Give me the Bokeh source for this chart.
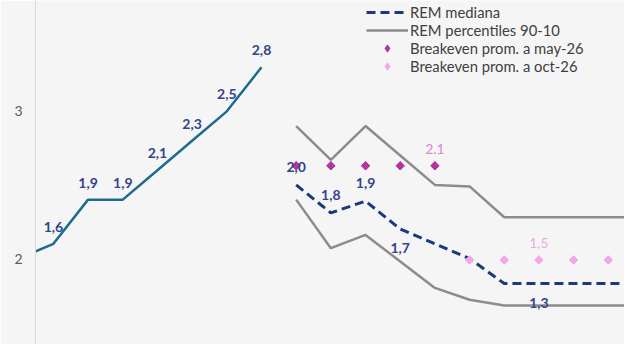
import math
from bokeh.plotting import figure
from bokeh.models import (ColumnDataSource, Range1d, LinearAxis, FixedTicker,
                          Legend, LegendItem)
from bokeh.core.properties import value
from bokeh.embed import file_html
from bokeh.resources import INLINE

# ---------------- data ----------------
# x positions are period indices
hist_x = [0, 1, 2, 3, 4, 5, 6, 7]
hist_y = [1.5, 1.6, 1.9, 1.9, 2.1, 2.3, 2.5, 2.8]
hist_lbl_x = [1, 2, 3, 4, 5, 6, 7]
hist_lbl = ["1,6", "1,9", "1,9", "2,1", "2,3", "2,5", "2,8"]

fc_x = [8, 9, 10, 11, 12, 13, 14, 15, 16, 17, 18]
rem_median = [2.0, 1.81, 1.89, 1.70, 1.60, 1.50, 1.33, 1.33, 1.33, 1.33, 1.33]
rem_p90 = [2.40, 2.17, 2.40, 2.20, 2.00, 1.99, 1.78, 1.78, 1.78, 1.78, 1.78]
rem_p10 = [1.90, 1.57, 1.66, 1.48, 1.30, 1.22, 1.18, 1.18, 1.18, 1.18, 1.18]

be_may_x = [8, 9, 10, 11, 12]
be_may_y = [2.13, 2.13, 2.13, 2.13, 2.13]
be_oct_x = [13, 14, 15, 16, 17]
be_oct_y = [1.49, 1.49, 1.49, 1.49, 1.49]

med_lbl_up_x = [8, 9, 10]
med_lbl_up = ["2,0", "1,8", "1,9"]
med_lbl_dn_x = [11, 15]
med_lbl_dn = ["1,7", "1,3"]
may_lbl_x = [12]
may_lbl = ["2.1"]
oct_lbl_x = [15]
oct_lbl = ["1,5"]

axis_ticks = [2, 3]
axis_offset = 0.5

# ---------------- style ----------------
BG = "#f5f5f5"
TEAL = "#1f6b8e"
NAVY = "#1b3a7a"
LBL = "#33448a"
GRAY = "#8c8c8c"
MAG = "#b4349e"
PINK = "#f2a7ea"

y0, y1 = 0.9156, 3.2532
p = figure(width=624, height=344, output_backend="svg", toolbar_location=None,
           title=None, x_range=Range1d(0.4836, 17.467), y_range=Range1d(y0, y1),
           x_axis_location=None, y_axis_location=None,
           min_border_left=35, min_border_right=0, min_border_top=0,
           min_border_bottom=0, background_fill_color=BG, border_fill_color=BG,
           outline_line_color=None)
p.xgrid.visible = False
p.ygrid.visible = False

p.extra_y_ranges = {"ax": Range1d(y0 + axis_offset, y1 + axis_offset)}
ax = LinearAxis(y_range_name="ax", ticker=FixedTicker(ticks=axis_ticks),
                axis_line_color="#d9d9d9", axis_line_width=1,
                major_tick_out=0, major_tick_in=0, minor_tick_out=0, minor_tick_in=0,
                major_label_standoff=13,
                major_label_text_font="Lato", major_label_text_font_size="14px",
                major_label_text_color="#595959")
p.add_layout(ax, "left")

p.line(hist_x, hist_y, line_color=TEAL, line_width=2.5)
r_up = p.line(fc_x, rem_p90, line_color=GRAY, line_width=2.5)
p.line(fc_x, rem_p10, line_color=GRAY, line_width=2.5)
r_med = p.line(fc_x, rem_median, line_color=NAVY, line_width=3, line_dash="9 5")
# diamond renderers (used for the legend swatch), covered by rotated squares
r_may = p.scatter(be_may_x, be_may_y, marker="diamond", size=8, color=MAG)
r_oct = p.scatter(be_oct_x, be_oct_y, marker="diamond", size=8, color=PINK)
p.scatter(be_may_x, be_may_y, marker="square", size=6, angle=math.pi / 4, color=MAG)
p.scatter(be_oct_x, be_oct_y, marker="square", size=6, angle=math.pi / 4, color=PINK)


def labels(xs, ys_src, xsrc, txt, color, dy, style="bold"):
    lookup = dict(zip(xsrc, ys_src))
    src = ColumnDataSource(dict(x=xs, y=[lookup[x] for x in xs], t=txt))
    p.text(x="x", y="y", text="t", source=src, y_offset=dy,
           text_align="center", text_baseline="middle",
           text_font=value("Lato"), text_font_style=style,
           text_font_size="14px", text_color=color)


labels(hist_lbl_x, hist_y, hist_x, hist_lbl, LBL, -17)
labels(med_lbl_up_x, rem_median, fc_x, med_lbl_up, LBL, -18)
labels(med_lbl_dn_x, rem_median, fc_x, med_lbl_dn, LBL, 19)
labels(may_lbl_x, be_may_y, be_may_x, may_lbl, "#df84d6", -17, "normal")
labels(oct_lbl_x, be_oct_y, be_oct_x, oct_lbl, "#f0a8e8", -17, "normal")

legend = Legend(items=[
    LegendItem(label="REM mediana", renderers=[r_med]),
    LegendItem(label="REM percentiles 90-10", renderers=[r_up]),
    LegendItem(label="Breakeven prom. a may-26", renderers=[r_may]),
    LegendItem(label="Breakeven prom. a oct-26", renderers=[r_oct]),
], location=(331, 269), orientation="vertical",
    background_fill_alpha=0, border_line_alpha=0, padding=0, margin=0,
    spacing=0, glyph_width=42, glyph_height=18, label_height=18,
    label_standoff=2, label_text_font="Lato", label_text_font_size="14.8px",
    label_text_color="#404040")
p.add_layout(legend)

open("out.html", "w").write(file_html(p, INLINE))
